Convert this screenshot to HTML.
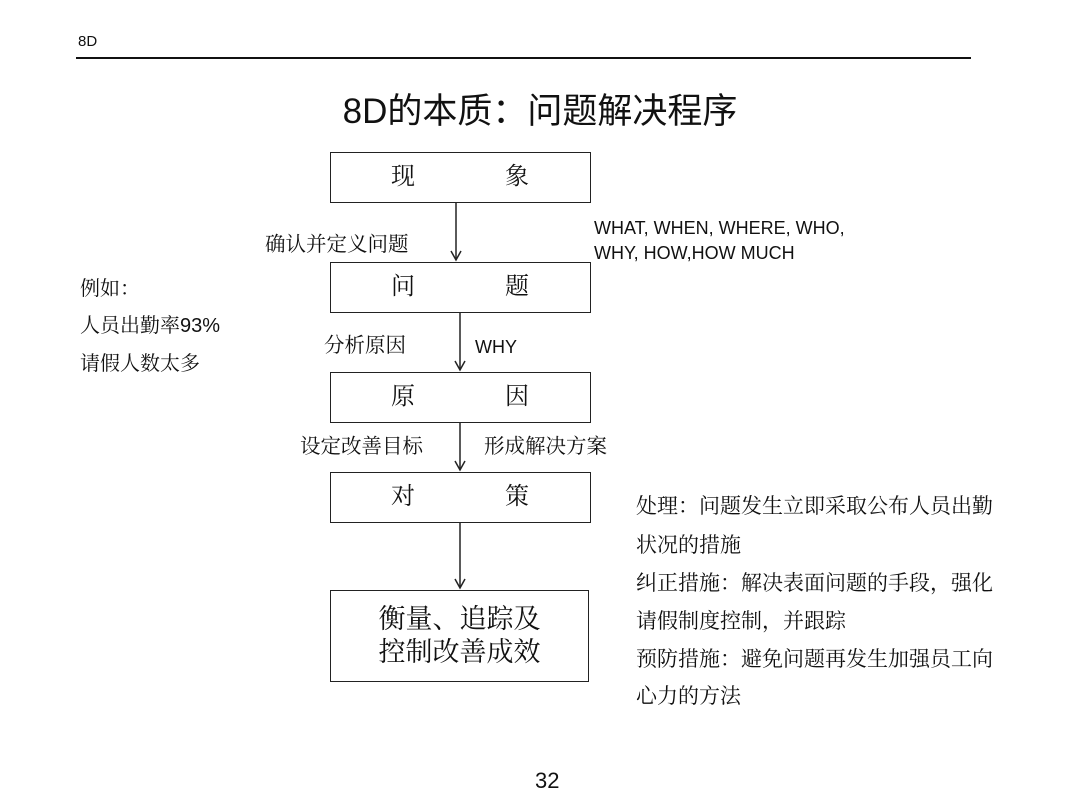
<!DOCTYPE html>
<html><head><meta charset="utf-8"><style>
body{margin:0;width:1080px;height:810px;background:#fff;position:relative;overflow:hidden;font-family:"Liberation Sans","Noto Serif CJK SC",serif;color:#111}
.t{position:absolute;white-space:nowrap;line-height:1}
.box{position:absolute;left:330px;width:259px;border:1.5px solid #222;background:#fff}
.bt{position:absolute;font-size:24px;line-height:1}
</style></head><body>
<div class="t" style="left:78px;top:34px;font-size:15px;font-family:'Liberation Sans',sans-serif">8D</div>
<div style="position:absolute;left:76px;top:57px;width:895px;height:2px;background:#111"></div>
<div class="t" style="left:0;width:1080px;text-align:center;top:94px;font-size:35px;font-family:'Liberation Sans','Noto Sans CJK SC',sans-serif">8D的本质：问题解决程序</div>

<div class="box" style="top:152px;height:49px"><span class="bt" style="left:60px;top:12px">现</span><span class="bt" style="left:174px;top:12px">象</span></div>
<div class="box" style="top:262px;height:49px"><span class="bt" style="left:60px;top:12px">问</span><span class="bt" style="left:174px;top:12px">题</span></div>
<div class="box" style="top:372px;height:49px"><span class="bt" style="left:60px;top:12px">原</span><span class="bt" style="left:174px;top:12px">因</span></div>
<div class="box" style="top:472px;height:49px"><span class="bt" style="left:60px;top:12px">对</span><span class="bt" style="left:174px;top:12px">策</span></div>
<div class="box" style="top:590px;height:92px;text-align:center;font-size:27px;line-height:33px;padding-top:12px;box-sizing:border-box">衡量、追踪及<br>控制改善成效</div>

<svg width="1080" height="810" style="position:absolute;left:0;top:0">
<g stroke="#222" stroke-width="1.5" fill="none">
<line x1="456" y1="203" x2="456" y2="259"/><polyline points="451,251 456,260 461,251"/>
<line x1="460" y1="313" x2="460" y2="369"/><polyline points="455,361 460,370 465,361"/>
<line x1="460" y1="423" x2="460" y2="469"/><polyline points="455,461 460,470 465,461"/>
<line x1="460" y1="523" x2="460" y2="587"/><polyline points="455,579 460,588 465,579"/>
</g></svg>

<div class="t" style="left:265px;top:235px;font-size:20.5px">确认并定义问题</div>
<div class="t" style="left:594px;top:219px;font-size:18px">WHAT, WHEN, WHERE, WHO,</div>
<div class="t" style="left:594px;top:244px;font-size:18px">WHY, HOW,HOW MUCH</div>
<div class="t" style="left:80px;top:279px;font-size:20px">例如：</div>
<div class="t" style="left:80px;top:316px;font-size:20px">人员出勤率93%</div>
<div class="t" style="left:80px;top:354px;font-size:20px">请假人数太多</div>
<div class="t" style="left:324px;top:336px;font-size:20.5px">分析原因</div>
<div class="t" style="left:475px;top:338px;font-size:18px">WHY</div>
<div class="t" style="left:300px;top:437px;font-size:20.5px">设定改善目标</div>
<div class="t" style="left:484px;top:437px;font-size:20.5px">形成解决方案</div>
<div class="t" style="left:636px;top:496px;font-size:21px">处理：问题发生立即采取公布人员出勤</div>
<div class="t" style="left:636px;top:535px;font-size:21px">状况的措施</div>
<div class="t" style="left:636px;top:573px;font-size:21px">纠正措施：解决表面问题的手段，强化</div>
<div class="t" style="left:636px;top:611px;font-size:21px">请假制度控制，并跟踪</div>
<div class="t" style="left:636px;top:649px;font-size:21px">预防措施：避免问题再发生加强员工向</div>
<div class="t" style="left:636px;top:686px;font-size:21px">心力的方法</div>
<div class="t" style="left:535px;top:770px;font-size:22px;font-family:'Liberation Sans',sans-serif">32</div>
</body></html>
